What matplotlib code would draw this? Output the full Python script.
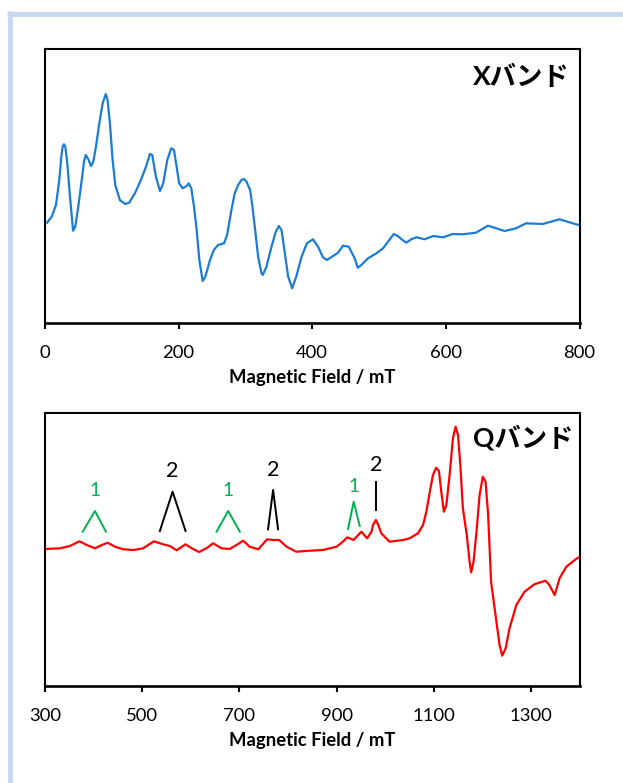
import numpy as np
import matplotlib
matplotlib.use("Agg")
import matplotlib.pyplot as plt
from matplotlib.lines import Line2D

plt.rcParams['font.family'] = ['Lato', 'Noto Sans CJK JP', 'DejaVu Sans']

# X band spectrum (field in mT, intensity in arbitrary units)
x_field = [3, 10, 16.4, 21.4, 24.4, 26.4, 28.4, 30.4, 33.4, 37.4, 42, 45.3, 49.8, 55,
           58.3, 61, 64.8, 69, 72.3, 76.3, 81.3, 86.3, 91, 93.7, 97.2, 101.2, 105.2,
           112, 120, 126, 134.6, 144.6, 152, 157, 160.5, 166, 172, 177, 183, 189, 193,
           197, 200.8, 206, 212, 215, 219, 223, 227, 231, 236, 240, 247, 252.7, 259,
           268, 272.6, 279, 284, 289, 294, 298, 301.6, 307, 310.5, 314, 319, 324, 326,
           331.5, 339, 345.4, 350, 354, 359, 364, 370, 376, 384, 392, 401, 408.7, 416,
           422, 438.6, 446, 454.6, 463.5, 468, 473.5, 483.5, 496, 506, 513.4, 522, 528,
           535, 541, 548, 556, 568, 581, 596, 610, 625, 645, 663, 688, 705, 720, 745,
           770, 795, 800]
x_int = [100.3, 106.3, 118, 143, 166.3, 176.3, 178.7, 176.3, 159.7, 126.3, 92.3, 96.3,
         116.3, 143, 161.3, 168, 163.7, 157, 161.3, 176.3, 199.7, 219.7, 229, 223, 199.7,
         163, 138, 123, 119, 120.3, 129.7, 144.7, 158, 169, 168, 146.3, 132, 139.7, 163,
         174.7, 173, 156.3, 139.7, 134.7, 137, 139.7, 134.7, 116.3, 93, 63, 42, 46.3, 63,
         73, 78, 79.7, 88, 113, 129.7, 138, 143, 144, 141.3, 133, 116.3, 96.3, 66.3,
         49.7, 48, 56.3, 76.3, 91.3, 97, 93, 69.7, 46.3, 34.7, 46.3, 66.3, 79.7, 83.7,
         76.3, 65.7, 63, 70.3, 77.3, 76.3, 64.7, 55.3, 58, 64.7, 69.7, 74.7, 81.3, 89,
         87, 83, 80.3, 83.7, 85.7, 83.7, 87, 85.7, 89, 88.7, 90.3, 97.3, 92, 94.7, 99.7,
         99, 103.7, 98.7, 98]

# Q band spectrum
q_field = [300, 331, 351, 371, 386, 403, 417, 429, 444, 461, 482, 502, 524, 543, 557,
           571, 589, 602, 617, 632, 646, 663, 680, 694, 708, 721, 739, 757, 769, 782,
           797, 817, 845, 872, 900, 913, 922, 935, 951, 963, 972, 975, 981, 986, 992,
           1009, 1037, 1050.5, 1067.6, 1078, 1084.8, 1092, 1098.4, 1105, 1110.7, 1115.5,
           1121, 1126, 1132.7, 1139.5, 1145, 1150, 1154.7, 1160, 1168, 1173.8, 1177,
           1182, 1188, 1194.4, 1201, 1206.7, 1212, 1218, 1229, 1235.5, 1241, 1248, 1256,
           1270, 1287, 1307, 1330, 1338, 1349, 1359, 1373, 1393, 1400]
q_int = [137, 137.7, 140, 144.7, 141, 137.7, 141, 143.3, 139.3, 136.7, 136, 137.7, 144.7,
         141.7, 140, 135.7, 141.7, 137.7, 134, 137.7, 142.7, 137.7, 137, 141, 145.3, 139.3,
         136.7, 146.7, 146, 146, 139.3, 134.3, 135.3, 136, 139.3, 144.3, 148.7, 146, 154.3,
         147.7, 154.3, 161, 166, 161, 152.7, 144.3, 146, 147.7, 152.7, 161, 174.3, 194.3,
         211, 218.3, 215, 194.3, 174.3, 181, 211, 247.7, 259.3, 251, 221, 177.7, 151,
         124.3, 113.7, 124.3, 154.3, 191, 209.3, 204.3, 171, 104.3, 64.3, 41, 30.3, 37.7,
         57.7, 81, 94.3, 101.7, 105.3, 101, 91, 107.7, 119.3, 127, 129]

# peak group markers: (field points of the caret, heights), label, label position
site1_marks = [([377.5, 402.8, 425.4], [154.3, 175, 154.3]),
               ([653, 677, 701], [154.3, 175, 154.3]),
               ([923.6, 935.3, 947.7], [157, 184.3, 160])]
site1_labels = [(402.8, 195.3), (676.9, 195.3), (935.3, 199.7)]
site2_marks = [([536.4, 562.6, 589.3], [155, 194.3, 155]),
               ([759, 769.4, 779.7], [156.7, 196, 156.7]),
               ([982, 982], [176, 204.3])]
site2_labels = [(561, 215.2), (769.4, 215.5), (982, 221)]

W, H = 623, 783
fig = plt.figure(figsize=(W / 100, H / 100), dpi=100)

# light blue frame
fig.add_artist(Line2D([9.5 / W, 9.5 / W], [0, 1 - 11 / H], transform=fig.transFigure,
                      color='#c6d9f1', lw=3.6, solid_capstyle='butt'))
fig.add_artist(Line2D([7 / W, 1], [1 - 13.5 / H, 1 - 13.5 / H], transform=fig.transFigure,
                      color='#c6d9f1', lw=3.6, solid_capstyle='butt'))


def style_axes(ax):
    for s in ['top', 'left', 'right']:
        ax.spines[s].set_linewidth(1.5)
    ax.spines['bottom'].set_linewidth(1.9)
    ax.set_yticks([])
    ax.tick_params(axis='x', direction='out', length=4.5, width=1.5, pad=11,
                   labelsize=13.3, colors='black')
    ax.set_xlabel('Magnetic Field / mT', fontsize=13.3, fontweight='bold', labelpad=6)


ax1 = fig.add_axes([45 / W, 1 - 323 / H, 534.5 / W, 274 / H])
ax1.plot(x_field, x_int, color='#1a7cd2', lw=1.6, solid_joinstyle='round')
ax1.set_xlim(0, 800)
ax1.set_ylim(0, 274)
ax1.set_xticks([0, 200, 400, 600, 800])
style_axes(ax1)
ax1.text(521 / W, 1 - 77 / H, 'Xバンド', transform=fig.transFigure, fontsize=19,
         fontweight='bold', ha='center', va='center')

ax2 = fig.add_axes([45 / W, 1 - 686 / H, 534.5 / W, 273 / H])
ax2.plot(q_field, q_int, color='#ff0000', lw=1.6, solid_joinstyle='round')
ax2.set_xlim(300, 1400)
ax2.set_ylim(0, 273)
ax2.set_xticks([300, 500, 700, 900, 1100, 1300])
style_axes(ax2)
ax2.text(523 / W, 1 - 438 / H, 'Qバンド', transform=fig.transFigure, fontsize=19,
         fontweight='bold', ha='center', va='center')

for (fx, fy), (lx, ly) in zip(site1_marks, site1_labels):
    ax2.plot(fx, fy, color='#00b050', lw=1.4)
    ax2.text(lx, ly, '1', color='#00b050', fontsize=13.5, ha='center', va='center')
for (fx, fy), (lx, ly) in zip(site2_marks, site2_labels):
    ax2.plot(fx, fy, color='black', lw=1.4)
    ax2.text(lx, ly, '2', color='black', fontsize=15.5, ha='center', va='center')

fig.savefig('out.png', dpi=100)
